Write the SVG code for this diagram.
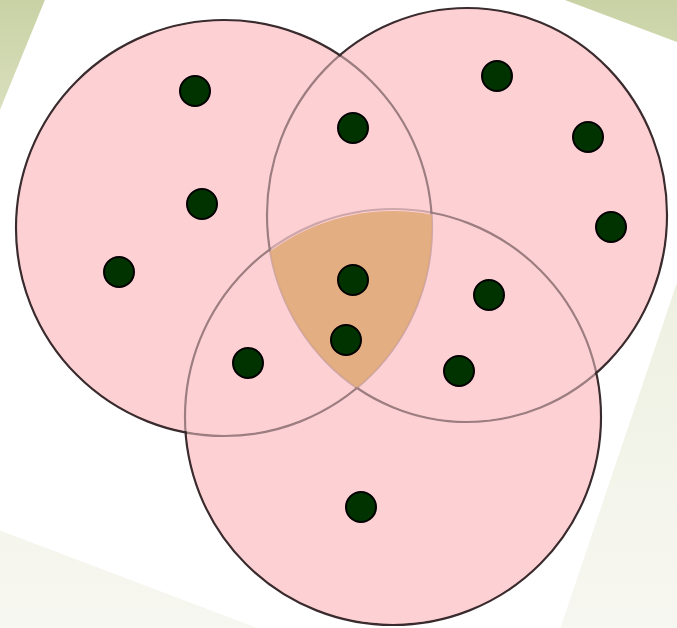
<svg xmlns="http://www.w3.org/2000/svg" width="677" height="628" viewBox="0 0 677 628">
  <defs>
    <linearGradient id="bg" x1="0" y1="0" x2="0" y2="1">
      <stop offset="0" stop-color="#c9d2a5"/>
      <stop offset="0.18" stop-color="#d9dfbd"/>
      <stop offset="0.5" stop-color="#eff1e3"/>
      <stop offset="1" stop-color="#f7f7f1"/>
    </linearGradient>
    <clipPath id="clipA"><circle cx="224" cy="228" r="208"/></clipPath>
    <clipPath id="clipB"><ellipse cx="467" cy="215" rx="200" ry="207"/></clipPath>
  </defs>
  <style>
    .fill { fill: #fdd0d3; stroke: none; }
    .ring { fill: none; stroke: #3a2c2e; stroke-width: 2.2; }
    .veil { fill: #fdd0d3; fill-opacity: 0.5; stroke: none; }
    .dot { fill: #003300; stroke: #000000; stroke-width: 2; }
  </style>
  <rect x="0" y="0" width="677" height="628" fill="url(#bg)"/>
  <polygon points="114,-169 749,69 526,730 -149,474" fill="#ffffff"/>

  <g id="sets">
    <g id="fills">
      <circle class="fill" cx="224" cy="228" r="208"/>
      <ellipse class="fill" cx="467" cy="215" rx="200" ry="207"/>
      <circle class="fill" cx="393" cy="417" r="208"/>
    </g>
    <g id="setA"><circle class="ring" cx="224" cy="228" r="208"/></g>
    <g id="setB"><ellipse class="ring" cx="467" cy="215" rx="200" ry="207"/></g>
    <g id="setC"><circle class="ring" cx="393" cy="417" r="208"/></g>
    <g id="veils">
      <circle class="veil" cx="224" cy="228" r="206.6"/>
      <ellipse class="veil" cx="467" cy="215" rx="198.6" ry="205.6"/>
      <circle class="veil" cx="393" cy="417" r="206.6"/>
    </g>
    <g id="intersection" clip-path="url(#clipA)">
      <g clip-path="url(#clipB)">
        <circle cx="393" cy="418" r="207" fill="#e0a878" fill-opacity="0.88"/>
      </g>
    </g>
  </g>

  <g id="connectors"></g>

  <g id="elements">
    <g id="e1"><circle class="dot" cx="195" cy="91" r="15"/></g>
    <g id="e2"><circle class="dot" cx="353" cy="128" r="15"/></g>
    <g id="e3"><circle class="dot" cx="497" cy="76" r="15"/></g>
    <g id="e4"><circle class="dot" cx="588" cy="137" r="15"/></g>
    <g id="e5"><circle class="dot" cx="611" cy="227" r="15"/></g>
    <g id="e6"><circle class="dot" cx="202" cy="204" r="15"/></g>
    <g id="e7"><circle class="dot" cx="119" cy="272" r="15"/></g>
    <g id="e8"><circle class="dot" cx="353" cy="280" r="15"/></g>
    <g id="e9"><circle class="dot" cx="489" cy="295" r="15"/></g>
    <g id="e10"><circle class="dot" cx="346" cy="340" r="15"/></g>
    <g id="e11"><circle class="dot" cx="248" cy="363" r="15"/></g>
    <g id="e12"><circle class="dot" cx="459" cy="371" r="15"/></g>
    <g id="e13"><circle class="dot" cx="361" cy="507" r="15"/></g>
  </g>
</svg>
